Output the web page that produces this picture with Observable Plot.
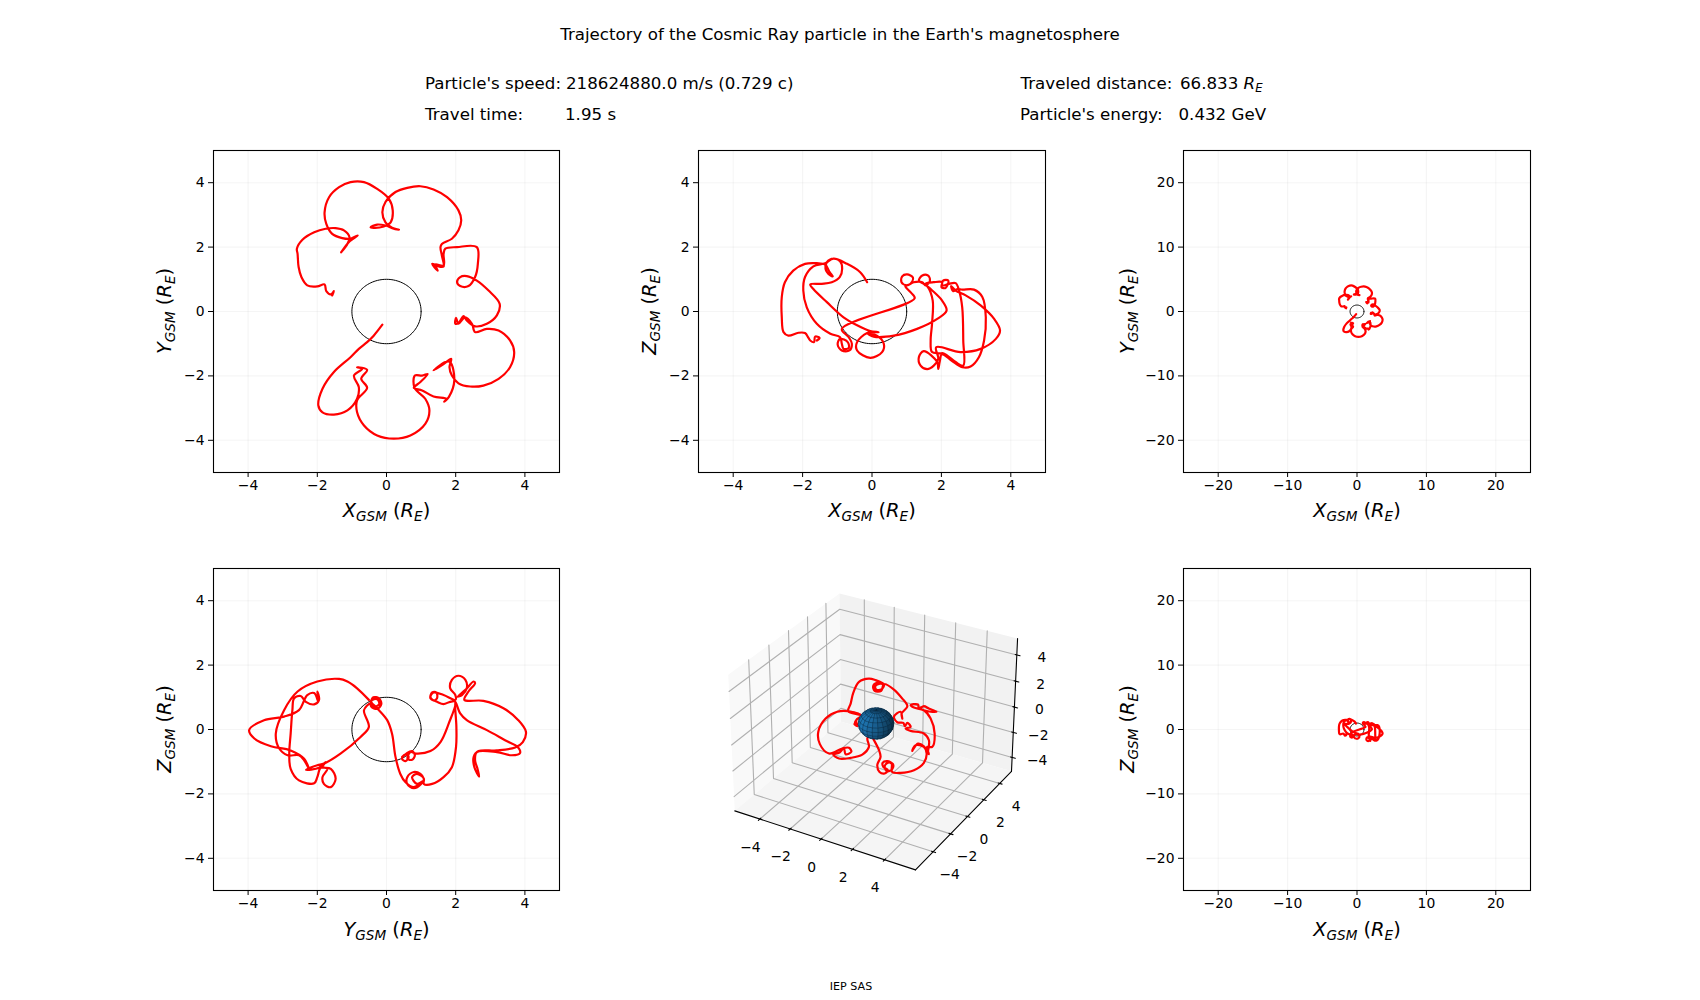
<!DOCTYPE html>
<html>
<head>
<meta charset="utf-8">
<script src="https://cdn.jsdelivr.net/npm/d3@7"></script>
<script src="https://cdn.jsdelivr.net/npm/@observablehq/plot@0.6"></script>
<style>
  html,body{margin:0;padding:0;background:#fff;}
  #fig{position:relative;width:1700px;height:1000px;font-family:"DejaVu Sans",sans-serif;color:#000;overflow:hidden;}
  #fig svg{position:absolute;overflow:visible;}
  .t{position:absolute;white-space:pre;line-height:1;}
  .lab{position:absolute;white-space:pre;font-size:19.4px;line-height:1;transform:translate(-50%,-50%);}
  .lab.v{transform:translate(-50%,-50%) rotate(-90deg);}
  sub{font-size:70%;vertical-align:baseline;position:relative;top:.28em;line-height:0;}
</style>
</head>
<body>
<div id="fig"></div>
<script>
const titleText = "Trajectory of the Cosmic Ray particle in the Earth's magnetosphere";
const captionText = "IEP SAS";
const speedText = "218624880.0 m/s (0.729 c)";
const timeText = "1.95 s";
const distanceText = "66.833";
const energyText = "0.432 GeV";

const innerTicks = [-4,-2,0,2,4];
const outerTicks = [-20,-10,0,10,20];
const innerLimit = 5;
const outerLimit = 25;
// axis limits of the 3-D panel
const xLim3 = [-5.68,5.89], yLim3 = [-5.96,5.52], zLim3 = [-5.13,5.23];

// X-Y projection of the trajectory
const xyX = [-1.57,-1.52,-1.61,-1.74,-1.79,-2.0,-2.29,-2.46,-2.54,-2.57,-2.59,-2.43,-2.09,-1.76,-1.47,-1.23,-1.07,-1.13,-1.31,-1.09,-.83,-1.04,-1.28,-1.57,-1.74,-1.79,-1.66,-1.37,-1.04,-.65,-.27,.07,.18,.12,-.08,-.37,-.46,-.27,-.03,.21,.36,.16,-.03,-.12,-.03,.26,.6,.98,1.36,1.75,2.08,2.16,2.08,1.89,1.6,1.56,1.6,1.65,1.51,1.32,1.48,1.41,1.65,1.65,1.7,2.04,2.61,2.64,2.56,2.37,2.13,2.04,2.13,2.32,2.61,2.95,3.27,3.19,2.9,2.56,2.32,2.23,2.08,1.99,2.01,2.08,2.27,2.47,2.56,2.9,3.24,3.57,3.69,3.57,3.24,2.8,2.42,2.08,1.89,1.82,1.87,1.65,1.36,1.7,1.84,1.96,1.8,1.67,1.73,1.36,1.03,.79,.98,1.19,1.03,.82,.81,1.12,1.24,1.12,.69,.21,-.27,-.65,-.85,-.85,-.56,-.73,-.56,-.85,-.7,-.94,-.8,-.85,-1.13,-1.52,-1.85,-1.97,-1.85,-1.52,-1.04,-.8,-.56,-.37,-.12];
const xyY = [.5,.63,.53,.63,.84,.78,.81,1.07,1.38,1.79,1.95,2.23,2.46,2.57,2.59,2.52,2.31,2.1,1.84,2.15,2.36,2.26,2.28,2.41,2.72,3.08,3.55,3.86,4.02,4.02,3.81,3.5,3.14,2.77,2.64,2.6,2.62,2.7,2.67,2.57,2.54,2.6,2.77,3.08,3.4,3.71,3.84,3.89,3.79,3.55,3.14,2.83,2.52,2.26,2.1,2.0,1.74,1.4,1.4,1.48,1.27,1.46,1.43,1.79,1.95,2.0,2.0,1.48,1.07,.79,.79,.91,1.07,1.1,.96,.65,.24,-.12,-.38,-.46,-.28,-.14,-.36,-.38,-.2,-.38,-.18,-.38,-.64,-.54,-.59,-.9,-1.26,-1.73,-2.09,-2.3,-2.33,-2.23,-1.99,-1.73,-1.47,-1.63,-1.83,-1.57,-1.57,-2.14,-2.66,-2.8,-2.71,-2.64,-2.45,-2.37,-2.19,-1.94,-1.99,-1.99,-2.37,-2.71,-3.07,-3.49,-3.85,-3.95,-3.85,-3.54,-3.13,-2.76,-2.37,-2.09,-1.81,-1.73,-1.78,-1.99,-2.35,-2.71,-3.07,-3.2,-3.13,-2.92,-2.4,-1.88,-1.42,-1.16,-.95,-.75,-.41];

// X-Z projection of the trajectory
const xzX = [-1.59,-1.51,-1.64,-1.67,-1.78,-1.83,-1.93,-2.12,-2.41,-2.55,-2.6,-2.6,-2.51,-2.27,-1.93,-1.59,-1.35,-1.22,-1.13,-1.2,-1.34,-1.3,-1.11,-.92,-.86,-.93,-1.16,-1.45,-1.78,-1.69,-1.3,-.82,-.43,-.05,.19,-.14,-.43,-.43,-.05,.29,.34,.14,-.14,.05,.63,1.3,1.88,2.15,2.02,1.69,1.54,1.78,2.02,2.0,2.12,2.2,2.05,2.03,2.22,2.41,2.51,2.6,2.63,2.63,2.41,2.17,2.02,1.95,1.91,1.88,1.49,1.35,1.4,1.59,1.78,1.91,1.85,2.55,3.13,3.57,3.69,3.52,3.13,2.7,2.41,2.28,2.34,2.46,2.6,2.94,3.18,3.28,3.23,3.08,2.84,2.6,2.31,2.02,1.73,1.69,1.73,1.75,1.61,1.49,1.35,1.45,1.61,1.67,1.54,1.45,1.2,1.01,.85,.87,1.01,1.18,1.11,.96,1.11,1.23,-.87,-.67,-.58,-.65,-.87,-.99,-.92,-.7,-.67,-.82,-.87,-.92,-1.2,-1.59,-1.88,-1.98,-1.93,-1.69,-1.35,-1.11,-.72,-.34,-.14];
const xzZ = [-.9,-.82,-.78,-.95,-.9,-.82,-.67,-.66,-.75,-.64,-.18,.45,.91,1.27,1.48,1.5,1.46,1.22,1.09,1.12,1.33,1.53,1.64,1.56,1.33,1.07,.91,.86,.84,.7,.29,-.18,-.43,-.61,-.64,-.67,-.95,-1.21,-1.44,-1.26,-1.0,-.75,-.67,-.78,-.75,-.54,-.23,.03,.34,.7,.86,.91,.91,.76,.73,.96,.96,.81,.86,.88,.65,.13,-.9,-1.68,-1.57,-1.37,-1.29,-1.57,-1.78,-1.57,-1.23,-1.42,-1.68,-1.79,-1.68,-1.47,-1.11,-1.26,-1.16,-.85,-.59,-.23,.19,.5,.65,.79,.63,.7,.68,.68,.45,-.18,-.9,-1.42,-1.71,-1.73,-1.54,-1.31,-1.26,-.9,-.38,.34,.76,.86,.96,1.12,1.12,.96,.81,.91,.91,.81,.91,1.09,1.15,1.05,.86,.79,.6,.41,-.54,-.8,-1.0,-1.21,-1.21,-1.02,-.85,-.95,-1.13,-1.16,-1.0,-.8,-.69,-.38,.13,.65,1.07,1.4,1.5,1.64,1.48,1.22,.91];

// Y-Z projection of the trajectory
const yzY = [.45,.55,.64,.55,.45,.6,.74,.82,.74,.61,.69,.88,1.27,1.56,1.8,1.99,1.84,1.65,1.46,1.27,1.32,1.44,1.46,1.36,1.27,1.36,1.65,1.99,1.99,1.84,1.89,2.08,2.28,2.32,2.18,2.06,2.28,2.52,2.56,2.37,2.25,2.8,3.38,3.81,4.03,3.94,3.72,3.19,2.66,2.52,2.54,2.68,2.63,2.56,2.61,3.19,3.62,3.86,3.77,3.53,2.9,2.32,2.13,1.99,2.02,2.01,1.89,1.65,1.32,1.08,1.08,.98,.79,.6,.6,.79,1.0,1.08,.88,.74,.88,1.06,.79,.55,.4,.26,.16,.02,-.27,-.44,-.38,-.22,-.15,-.27,-.44,-.44,-.27,-.21,-.35,-.46,-.65,-.51,-.75,-1.33,-1.81,-2.0,-2.33,-1.95,-1.76,-1.85,-1.61,-1.47,-1.61,-1.81,-1.85,-1.71,-1.9,-2.0,-2.09,-2.53,-2.77,-2.81,-2.77,-2.72,-2.67,-2.48,-2.33,-2.09,-1.95,-2.0,-1.97,-2.09,-2.29,-2.53,-2.96,-3.54,-3.97,-3.82,-3.34,-2.77,-2.38,-2.24,-2.38,-2.53,-2.86,-3.1,-3.2,-2.96,-2.57,-2.0,-1.37,-1.13,-.85,-.51];
const yzZ = [-.85,-.77,-.85,-.98,-.91,-.73,-.67,-.8,-.94,-.91,-.7,-.75,-.67,-.39,.19,.86,.86,.79,.86,.97,1.15,1.15,.97,.9,1.02,1.15,1.07,.92,1.07,1.28,1.54,1.67,1.54,1.28,1.07,1.02,1.23,1.49,1.44,1.18,.92,.89,.66,.29,-.07,-.39,-.56,-.65,-.67,-.85,-1.17,-1.46,-1.22,-.96,-.7,-.7,-.8,-.73,-.52,-.39,-.02,.29,.5,.86,.08,-.54,-1.17,-1.48,-1.69,-1.69,-1.53,-1.38,-1.32,-1.48,-1.69,-1.82,-1.69,-1.53,-1.38,-1.48,-1.69,-1.6,-1.79,-1.64,-1.38,-.85,-.13,.29,.66,.86,1.0,.97,.79,.64,.71,.9,.94,.79,.71,.81,.6,.08,-.23,-.75,-1.06,-1.11,-1.25,-1.19,-1.01,-1.17,-1.22,-1.53,-1.79,-1.69,-1.48,-1.22,-1.19,-1.48,-1.67,-1.58,-1.22,-.75,-.13,.6,.97,1.04,.86,.78,.92,1.18,.86,1.13,1.07,.6,.4,.29,-.02,-.28,-.52,-.65,-.91,-1.22,-.96,-.8,-.8,-.59,-.13,.6,1.18,1.49,1.57,1.49,1.28,.92];

// Trajectory as seen in the 3-D panel, in the panel's view coordinates (x 1000)
const viewU = [30.0,30.6,27.7,20.1,17.2,20.1,18.2,16.8,15.9,12.4,10.5,14.3,15.3,14.9,18.2,15.3,10.5,4.7,3.2,-.6,-1.4,.9,4.7,3.2,.3,-.1,2.4,4.7,-.1,-3.9,-9.6,-12.9,-14.4,-15.8,-8.3,-11.2,-11.9,-10.2,-12.3,-10.4,-11.2,-8.3,-15.8,-22.1,-28.8,-33.0,-32.1,-26.9,-19.2,-15.4,-14.0,-17.3,-18.3,-21.1,-24.4,-21.1,-14.4,-7.7,-3.9,-4.8,-3.3,-1.0,1.9,2.8,.9,2.2,5.1,7.0,4.4,4.0,6.7,9.9,9.5,6.7,5.1,6.7,9.1,9.5,14.3,22.0,27.7,29.3,27.7,22.9,21.0,24.3,27.7,30.6,29.6,32.5,33.9,31.6,27.7,22.0,20.1,24.3,24.9,27.7,30.6,35.0,31.6,27.7];
const viewV = [-15.4,-8.8,-4.9,-3.4,-2.0,-1.1,1.2,-.7,1.2,1.6,4.7,7.6,3.7,6.6,10.8,15.2,20.4,23.5,19.6,19.6,22.5,24.2,22.9,20.4,20.4,22.5,23.8,23.5,25.8,26.7,24.8,18.5,12.3,7.9,5.3,2.8,1.2,.1,.5,-.7,2.8,5.3,7.9,7.6,3.7,-3.9,-11.0,-16.4,-13.5,-13.1,-15.4,-16.8,-13.5,-16.0,-17.0,-19.3,-18.9,-17.0,-12.6,-7.8,-4.9,-8.7,-14.5,-18.3,-23.1,-27.0,-27.9,-26.0,-24.1,-21.8,-20.8,-22.5,-25.4,-26.6,-24.1,-21.8,-22.2,-27.0,-27.5,-26.0,-21.8,-16.4,-12.6,-11.6,-14.9,-10.7,-12.2,-16.8,-12.6,-12.6,-4.9,3.7,8.5,10.0,11.4,11.8,9.5,10.8,9.5,7.6,7.6,8.5];

const fig = document.getElementById("fig");
const font = "'DejaVu Sans',sans-serif";
const red = "#ff0000";

function addText(html, left, top, size, extra){
  const d = document.createElement("div");
  d.className = "t";
  d.innerHTML = html;
  d.style.left = left+"px"; d.style.top = top+"px"; d.style.fontSize = size+"px";
  if (extra) d.style.cssText += extra;
  fig.appendChild(d);
}
function addLabel(html, cx, cy, vertical){
  const d = document.createElement("div");
  d.className = "lab"+(vertical?" v":"");
  d.innerHTML = html;
  d.style.left = cx+"px"; d.style.top = cy+"px";
  fig.appendChild(d);
}
const axisLabel = n => `<i>${n}<sub>GSM</sub></i> (<i>R<sub>E</sub></i>)`;

addText(titleText, 0, 27, 16.67, "width:1680px;text-align:center;");
addText("Particle's speed:", 425, 76, 16.67);
addText(speedText, 566, 76, 16.67);
addText("Travel time:", 425, 106.5, 16.67);
addText(timeText, 565, 106.5, 16.67);
addText("Traveled distance:", 1020.5, 76, 16.67);
addText(`${distanceText} <i>R<sub>E</sub></i>`, 1180, 76, 16.67);
addText("Particle's energy:", 1020, 106.5, 16.67);
addText(energyText, 1178.5, 106.5, 16.67);
addText(captionText, 0, 980.5, 11.1, "width:1702px;text-align:center;");

const H = 322;
const mL = 60, mR = 20, mT = 10, mB = 40;
const unit = d3.range(0, 121).map(i => i/120*2*Math.PI);
const earthRadius = 1;
const fmt = d => String(d).replace("-", "\u2212");

function panel(px, py, W, xs, ys, limit, ticks, xName, yName, yLabelOffset, xLabelOffset){
  const p = Plot.plot({
    width: W+mL+mR, height: H+mT+mB,
    marginLeft: mL, marginRight: mR, marginTop: mT, marginBottom: mB,
    style: {fontFamily: font, fontSize: "13.9px", background: "none", color:"#000"},
    x: {domain: [-limit, limit], label: null},
    y: {domain: [-limit, limit], label: null},
    marks: [
      Plot.gridX(ticks, {stroke: "#b0b0b0", strokeOpacity: 0.13, strokeWidth: 1.1}),
      Plot.gridY(ticks, {stroke: "#b0b0b0", strokeOpacity: 0.13, strokeWidth: 1.1}),
      Plot.line(unit, {x: a => earthRadius*Math.cos(a), y: a => earthRadius*Math.sin(a), stroke: "#000", strokeWidth: 1}),
      Plot.line({length: xs.length}, {x: xs, y: ys, stroke: red, strokeWidth: 2.2, curve: "catmull-rom", strokeLinejoin: "round", strokeLinecap:"round"}),
      Plot.frame({stroke: "#000", strokeWidth: 1.1}),
      Plot.axisX(ticks, {anchor: "bottom", label: null, tickSize: 5, tickPadding: 3, fontSize: 13.9, tickFormat: fmt}),
      Plot.axisY(ticks, {anchor: "left", label: null, tickSize: 5, tickPadding: 4, fontSize: 13.9, tickFormat: fmt})
    ]
  });
  p.style.left = (px-mL)+"px"; p.style.top = (py-mT)+"px";
  fig.appendChild(p);
  addLabel(axisLabel(xName), px+W/2+0.5, py+H+xLabelOffset);
  addLabel(axisLabel(yName), px+yLabelOffset, py+H/2, true);
}

panel(213, 150, 346, xyX, xyY, innerLimit, innerTicks, "X", "Y", -48, 39);
panel(698, 150, 347, xzX, xzZ, innerLimit, innerTicks, "X", "Z", -48, 39);
panel(1183, 150, 347, xyX, xyY, outerLimit, outerTicks, "X", "Y", -55, 39);
panel(213, 568, 346, yzY, yzZ, innerLimit, innerTicks, "Y", "Z", -48, 40);
panel(1183, 568, 347, xzX, xzZ, outerLimit, outerTicks, "X", "Z", -55, 40);

// ---- 3-D panel: the perspective camera of the reference (elev 30, azim -60) ----
const side = 321.7;
const aspect = [4,4,3].map(v => v*1.8294640721620434*(25/24)/Math.hypot(4,4,3));
const camU = [0.8660254,0.5,0], camV = [-0.25,0.4330127,0.8660254], camW = [0.4330127,-0.75,0.5];
const dist = 10;
const dot3 = (a,b) => a[0]*b[0]+a[1]*b[1]+a[2]*b[2];
const norm1 = (v,[lo,hi],a) => ((v-lo)/(hi-lo)-0.5)*a;
function project([x,y,z]){
  const q = [norm1(x,xLim3,aspect[0]), norm1(y,yLim3,aspect[1]), norm1(z,zLim3,aspect[2])];
  const d = dist - dot3(q, camW);
  return {u: dot3(q,camU)/d*1000, v: dot3(q,camV)/d*1000, d};
}
function polyRows(id, pts, extra){
  return pts.map(p => { const r = project(p); return {id, u:r.u, v:r.v, ...extra}; });
}
const [x0,x1] = xLim3, [y0,y1] = yLim3, [z0,z1] = zLim3;
const panes = [
  ...polyRows("xw", [[x0,y0,z0],[x0,y1,z0],[x0,y1,z1],[x0,y0,z1],[x0,y0,z0]], {c:"#f9f9f9"}),
  ...polyRows("yw", [[x0,y1,z0],[x1,y1,z0],[x1,y1,z1],[x0,y1,z1],[x0,y1,z0]], {c:"#f2f2f2"}),
  ...polyRows("zw", [[x0,y0,z0],[x1,y0,z0],[x1,y1,z0],[x0,y1,z0],[x0,y0,z0]], {c:"#f5f5f5"})
];
const gridRows = innerTicks.flatMap(k => [
  ...polyRows("gx"+k, [[k,y0,z0],[k,y1,z0],[k,y1,z1]]),
  ...polyRows("gy"+k, [[x0,k,z1],[x0,k,z0],[x1,k,z0]]),
  ...polyRows("gz"+k, [[x1,y1,k],[x0,y1,k],[x0,y0,k]])
]);
const axisRows = [
  ...polyRows("ax", [[x0,y0,z0],[x1,y0,z0]]),
  ...polyRows("ay", [[x1,y0,z0],[x1,y1,z0]]),
  ...polyRows("az", [[x1,y1,z0],[x1,y1,z1]])
];
const tickRows = innerTicks.flatMap(k => [
  ...polyRows("tx"+k, [[k,y0+0.1,z0],[k,y0-0.15,z0]]),
  ...polyRows("ty"+k, [[x1-0.1,k,z0],[x1+0.15,k,z0]]),
  ...polyRows("tz"+k, [[x1-0.1,y1,k],[x1+0.2,y1,k]])
]);
const xLab = innerTicks.map(k => ({...project([k,y0,z0]), t:fmt(k)}));
const yLab = innerTicks.map(k => ({...project([x1,k,z0]), t:fmt(k)}));
const zLab = innerTicks.map(k => ({...project([x1,y1,k]), t:fmt(k)}));

// sphere facets: the Earth, radius 1
const nLon = 20, nLat = 10;
const light = [-0.6667,-0.6667,0.3333];
const sph = (i,j) => {
  const lon = i/nLon*2*Math.PI, lat = j/nLat*Math.PI;
  return [Math.cos(lon)*Math.sin(lat), Math.sin(lon)*Math.sin(lat), Math.cos(lat)];
};
const facets = [];
for (let i=0;i<nLon;i++) for (let j=0;j<nLat;j++){
  const corners = [sph(i,j),sph(i+1,j),sph(i+1,j+1),sph(i,j+1)];
  const n = sph(i+.5,j+.5);
  const s = dot3(n, light);
  const f = 0.3 + (s+1)/2*0.7;
  const c = d3.rgb(31*f,119*f,180*f).formatHex();
  facets.push({corners, c, depth: dot3(n,camW), id:i+"_"+j});
}
facets.sort((a,b)=>a.depth-b.depth);
const sphereRows = facets.flatMap((fc,order) => [...fc.corners, fc.corners[0]].map(p => {
  const r = project(p);
  return {u:r.u, v:r.v, c:fc.c, order};
}));

const lim = [-95, 90];
const p3 = Plot.plot({
  width: side, height: side, margin: 0,
  style: {fontFamily: font, fontSize: "13.9px", background: "none", color:"#000"},
  x: {domain: lim, range:[0,side], axis:null},
  y: {domain: lim, range:[side,0], axis:null},
  color: {type:"identity"},
  marks: [
    Plot.line(panes, {x:"u", y:"v", z:"id", fill:"c", stroke:"none"}),
    Plot.line(gridRows, {x:"u", y:"v", z:"id", stroke:"#b0b0b0", strokeWidth:1.1}),
    Plot.line(axisRows, {x:"u", y:"v", z:"id", stroke:"#000", strokeWidth:1.1}),
    Plot.line(tickRows, {x:"u", y:"v", z:"id", stroke:"#000", strokeWidth:1.1}),
    Plot.text(xLab, {x:"u", y:"v", text:"t", dx:-9.5, dy:28, fontSize:13.9}),
    Plot.text(yLab, {x:"u", y:"v", text:"t", dx:16.5, dy:23, fontSize:13.9}),
    Plot.text(zLab, {x:"u", y:"v", text:"t", dx:25, dy:3, fontSize:13.9}),
    Plot.line({length:viewU.length}, {x:viewU, y:viewV, stroke:red, strokeWidth:2.2, curve:"catmull-rom", strokeLinejoin:"round", strokeLinecap:"round"}),
    Plot.line(sphereRows, {x:"u", y:"v", z:"order", fill:"c", stroke:"#0b2a40", strokeWidth:0.5, strokeOpacity:0.6})
  ]
});
p3.style.left = "710px"; p3.style.top = "568px";
fig.appendChild(p3);
</script>
</body>
</html>
